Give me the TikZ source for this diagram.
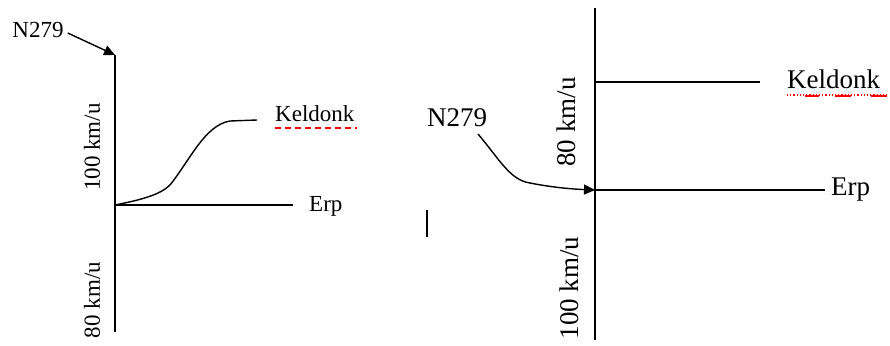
\documentclass[tikz,border=0pt]{standalone}
\usepackage{fontspec}
\setmainfont{Liberation Serif}
\usetikzlibrary{arrows.meta}
\begin{document}
\begin{tikzpicture}[x=1pt,y=-1pt,
  ax/.style={line width=1.7pt},
  ln/.style={line width=1.4pt},
  arr/.style={line width=1.4pt,-{Triangle[length=11pt,width=10pt]}},
  lfont/.style={font=\fontsize{23}{23}\selectfont, inner sep=0pt},
  rfont/.style={font=\fontsize{27}{27}\selectfont, inner sep=0pt},
  spell/.style={draw=red, line width=1.6pt, dash pattern=on 6pt off 4pt}]
\useasboundingbox (0,0) rectangle (890,345);
% ---- left figure ----
\coordinate (ltop) at (115,55);
\coordinate (lbot) at (115,332);
\coordinate (lo) at (115,205);
\coordinate (lend) at (293,205);
\coordinate (lk) at (257,120);
\draw[ax] (ltop) -- (lbot);
\draw[ln] (lo) -- (lend);
\node[lfont] (ln279) at (38,30) {N279};
\draw[arr] (ln279.east) ++(4,3) -- (ltop);
\draw[ln] (lo) .. controls (140,200) and (160,195) .. (170,185)
  .. controls (190,160) and (205,125) .. (230,121) -- (lk);
\node[lfont, anchor=base west] (lkel) at (275,121) {Keldonk};
\draw[spell] (lkel.base west) ++(0,7) -- ++(82,0);
\node[lfont, anchor=west] (lerp) at (309,206) {Erp};
\node[lfont, rotate=90] (l100) at (92,147) {100 km/u};
\node[lfont, rotate=90] (l80) at (92,300) {80 km/u};
% ---- right figure ----
\coordinate (rtop) at (595,8);
\coordinate (rbot) at (595,340);
\coordinate (rk0) at (595,82);
\coordinate (rk1) at (760,82);
\coordinate (re0) at (595,190);
\coordinate (re1) at (825,190);
\draw[ax] (rtop) -- (rbot);
\draw[ln] (rk0) -- (rk1);
\draw[ln] (re0) -- (re1);
\node[rfont, anchor=base west] (rkel) at (787,88) {Keldonk};
\draw[red, line width=1.2pt, dotted] (rkel.base west) ++(0,7) -- ++(101,0);
\draw[red, line width=1.6pt] (rkel.base west) ++(18,8) -- ++(14,0)
  (rkel.base west) ++(48,8) -- ++(16,0)
  (rkel.base west) ++(84,8) -- ++(16,0);
\node[rfont, anchor=west] (rerp) at (831,190) {Erp};
\node[rfont] (rn279) at (457,118) {N279};
\draw[arr] (478,134) .. controls (500,160) and (510,180) .. (530,183)
  .. controls (550,187) and (570,189) .. (re0);
\node[rfont, rotate=90] (r80) at (566,122) {80 km/u};
\node[rfont, rotate=90] (r100) at (569,288) {100 km/u};
\coordinate (bar0) at (427,210);
\coordinate (bar1) at (427,237);
\draw[line width=1.5pt] (bar0) -- (bar1);
\end{tikzpicture}
\end{document}
